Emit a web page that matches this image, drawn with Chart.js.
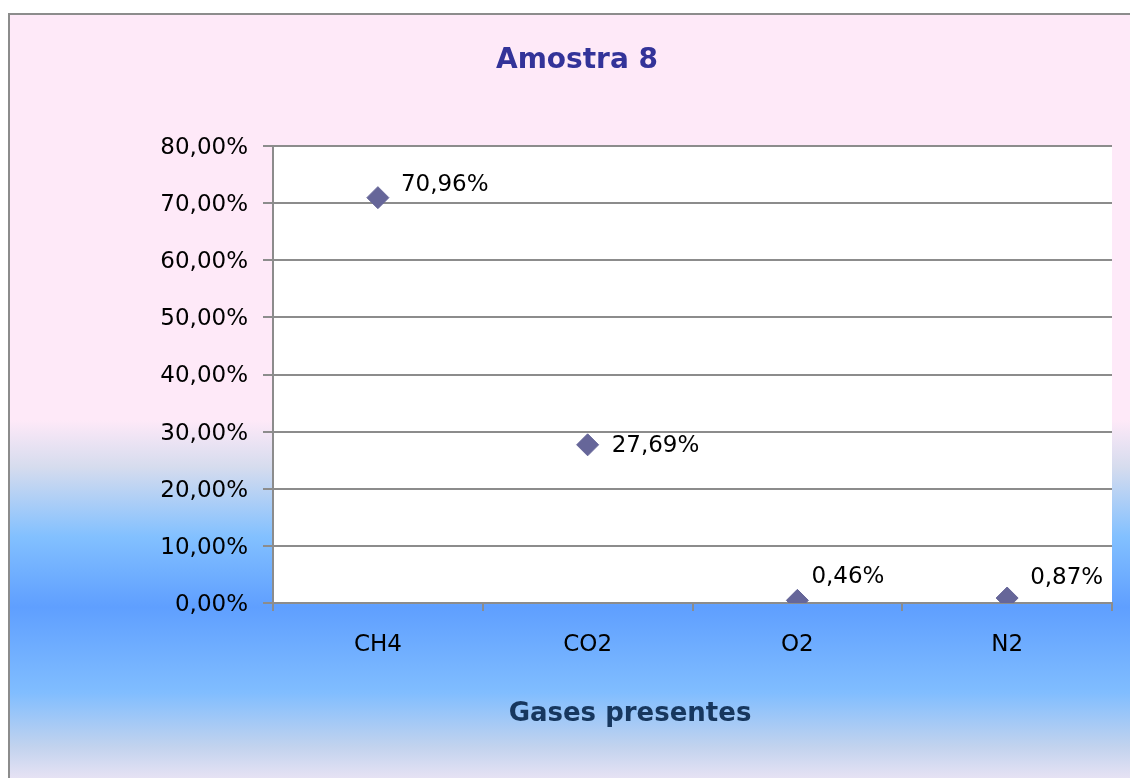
<!DOCTYPE html>
<html>
<head>
<meta charset="utf-8">
<script src="https://cdn.jsdelivr.net/npm/chart.js@4/dist/chart.umd.min.js"></script>
<style>
  html, body { margin: 0; padding: 0; background: #fff; }
  #wrap { width: 1130px; height: 778px; position: relative; }
</style>
</head>
<body>
<div id="wrap"><canvas id="chart"></canvas></div>
<script>
const categories = ["CH4", "CO2", "O2", "N2"];
const values = [70.96, 27.69, 0.46, 0.87]; // %
const yTicks = [0, 10, 20, 30, 40, 50, 60, 70, 80];
const chartTitle = "Amostra 8";
const xTitle = "Gases presentes";

const fmt = v => v.toFixed(2).replace(".", ",") + "%";

// where each value label sits relative to its point (style only)
const labelDx = [23, 24, 14, 23];
const labelDy = [-13, 1, -23, -20];

// page background + outer frame + white plot area
const backgroundPlugin = {
  id: "background",
  beforeDraw(chart) {
    const { ctx, width, height, chartArea } = chart;
    ctx.save();
    const g = ctx.createLinearGradient(0, 0, 0, height);
    g.addColorStop(0, "#fee9f8");
    g.addColorStop(0.54, "#fee9f8");
    g.addColorStop(0.6, "#d6dcee");
    g.addColorStop(0.69, "#82c0ff");
    g.addColorStop(0.78, "#5f9fff");
    g.addColorStop(0.89, "#80bdff");
    g.addColorStop(0.96, "#c2d3ee");
    g.addColorStop(1, "#e6e2f4");
    ctx.fillStyle = "#fff";
    ctx.fillRect(0, 0, width, height);
    ctx.fillStyle = g;
    ctx.fillRect(10, 15, width - 10, height - 15);
    ctx.strokeStyle = "#8c8c8c";
    ctx.lineWidth = 2;
    ctx.strokeRect(9, 14, width + 10, height + 10);
    ctx.fillStyle = "#fff";
    ctx.fillRect(chartArea.left, chartArea.top, chartArea.right - chartArea.left, chartArea.bottom - chartArea.top);
    ctx.restore();
  }
};

// chart title, axis title and value labels
const textPlugin = {
  id: "texts",
  afterDatasetsDraw(chart) {
    const { ctx } = chart;
    const meta = chart.getDatasetMeta(0);
    ctx.save();
    ctx.textBaseline = "middle";

    ctx.textAlign = "center";
    ctx.fillStyle = "#333399";
    ctx.font = "bold 28px 'DejaVu Sans'";
    ctx.fillText(chartTitle, 577, 61);

    ctx.fillStyle = "#17375e";
    ctx.font = "bold 26px 'DejaVu Sans'";
    ctx.fillText(xTitle, 630, 714);

    ctx.textAlign = "left";
    ctx.font = "23px 'DejaVu Sans'";
    ctx.fillStyle = "#000";
    meta.data.forEach((pt, i) => {
      ctx.fillText(fmt(values[i]), pt.x + labelDx[i], pt.y + labelDy[i]);
    });
    ctx.restore();
  }
};

new Chart(document.getElementById("chart"), {
  type: "line",
  data: {
    labels: categories,
    datasets: [{
      data: values,
      showLine: false,
      pointStyle: "rectRot",
      pointRadius: 11,
      pointHoverRadius: 11,
      backgroundColor: "#666699",
      borderColor: "#666699",
      borderWidth: 1
    }]
  },
  options: {
    responsive: true,
    maintainAspectRatio: false,
    animation: false,
    events: [],
    layout: { padding: { left: 0, right: 18, top: 146, bottom: 0 } },
    plugins: {
      legend: { display: false },
      tooltip: { enabled: false },
      title: { display: false }
    },
    scales: {
      x: {
        offset: true,
        grid: {
          offset: true,
          drawOnChartArea: false,
          drawTicks: true,
          tickLength: 8,
          color: "#8c8c8c",
          lineWidth: 2
        },
        border: { color: "#8c8c8c", width: 2 },
        ticks: {
          color: "#000",
          padding: 20,
          font: { family: "DejaVu Sans", size: 23 }
        },
        afterFit(s) { s.height = 175; }
      },
      y: {
        min: 0,
        max: 80,
        afterBuildTicks(s) { s.ticks = yTicks.map(v => ({ value: v })); },
        grid: {
          color: "#8c8c8c",
          lineWidth: 2,
          tickLength: 10
        },
        border: { color: "#8c8c8c", width: 2 },
        ticks: {
          color: "#000",
          padding: 15,
          labelOffset: 2,
          font: { family: "DejaVu Sans", size: 23 },
          callback: v => fmt(v)
        },
        afterFit(s) { s.width = 273; }
      }
    }
  },
  plugins: [backgroundPlugin, textPlugin]
});
</script>
</body>
</html>
